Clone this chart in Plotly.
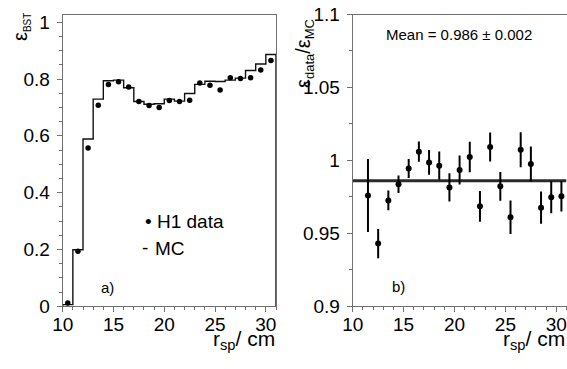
import numpy as np
import plotly.graph_objects as go

# ---- data ----
bin_edges = list(range(10, 32))            # 10 ... 31 cm, 1 cm bins
bin_centers = [e + 0.5 for e in bin_edges[:-1]]

eff_data = [0.012, 0.194, 0.557, 0.708, 0.781, 0.790, 0.772, 0.721, 0.707, 0.700,
            0.724, 0.721, 0.725, 0.786, 0.778, 0.761, 0.804, 0.802, 0.804, 0.832, 0.865]
eff_mc = [0.006, 0.199, 0.589, 0.729, 0.794, 0.796, 0.769, 0.721, 0.711, 0.713,
          0.729, 0.722, 0.749, 0.781, 0.792, 0.791, 0.796, 0.803, 0.830, 0.853, 0.886]

ratio_x = bin_centers[1:]
ratio = [0.976, 0.943, 0.9726, 0.9836, 0.9945, 1.006, 0.9986, 0.9964, 0.9815, 0.9934,
         1.0023, 0.9685, 1.0092, 0.9822, 0.961, 1.0073, 0.9975, 0.9676, 0.9747, 0.9754]
ratio_err = [0.025, 0.010, 0.0068, 0.006, 0.0065, 0.007, 0.0085, 0.0097, 0.0097, 0.010,
             0.0105, 0.0105, 0.010, 0.0098, 0.0115, 0.012, 0.012, 0.011, 0.011, 0.0105]
mean_ratio = 0.986
mean_text = "Mean = 0.986 ± 0.002"

# ---- step path for MC histogram (closed to zero like ROOT) ----
step_x = [bin_edges[0]]
step_y = [0.0]
for i, v in enumerate(eff_mc):
    step_x += [bin_edges[i], bin_edges[i + 1]]
    step_y += [v, v]
step_x.append(bin_edges[-1])
step_y.append(0.0)

W, H = 567, 369
def px(x): return x / W
def py(y): return 1 - y / H

FONT = "Liberation Sans, Arial, Helvetica, sans-serif"
AX = "#707070"

fig = go.Figure()
fig.add_trace(go.Scatter(x=step_x, y=step_y, mode="lines",
                         line=dict(color="#111", width=1.4), xaxis="x", yaxis="y",
                         showlegend=False, hoverinfo="skip"))
fig.add_trace(go.Scatter(x=bin_centers, y=eff_data, mode="markers",
                         marker=dict(color="black", size=5.5), xaxis="x", yaxis="y",
                         showlegend=False))
fig.add_trace(go.Scatter(x=[bin_edges[0], bin_edges[-1]], y=[mean_ratio, mean_ratio],
                         mode="lines", line=dict(color="#2a2a2a", width=3),
                         xaxis="x2", yaxis="y2", showlegend=False, hoverinfo="skip"))
fig.add_trace(go.Scatter(x=ratio_x, y=ratio, mode="markers",
                         marker=dict(color="black", size=6),
                         error_y=dict(type="data", array=ratio_err, color="black",
                                      thickness=2, width=0),
                         xaxis="x2", yaxis="y2", showlegend=False))

ydom = [py(306.3), py(14.5)]
common_x = dict(range=[10, 31], tickvals=[10, 15, 20, 25, 30], ticks="outside",
                ticklen=5, tickcolor=AX, tickwidth=1, showline=True, linecolor=AX,
                linewidth=1, mirror=True, showgrid=False, zeroline=False, automargin=False,
                tickfont=dict(family=FONT, size=19, color="black"), ticklabelstandoff=-4,
                minor=dict(dtick=1, tick0=10, ticks="outside", ticklen=3, tickcolor=AX))
common_y = dict(ticks="outside", ticklen=5, tickcolor=AX, tickwidth=1, showline=True,
                linecolor=AX, linewidth=1, mirror=True, showgrid=False, zeroline=False,
                automargin=False,
                tickfont=dict(family=FONT, size=19, color="black"), ticklabelstandoff=3)

fig.update_layout(
    width=W, height=H, margin=dict(l=0, r=0, t=0, b=0, autoexpand=False),
    paper_bgcolor="white", plot_bgcolor="white",
    xaxis=dict(domain=[px(62.7), px(276)], anchor="y", **common_x),
    yaxis=dict(domain=ydom, anchor="x", range=[0, 1.027], tickvals=[0, 0.2, 0.4, 0.6, 0.8, 1],
               minor=dict(dtick=0.05, tick0=0, ticks="outside", ticklen=3, tickcolor=AX),
               **common_y),
    xaxis2=dict(domain=[px(352.7), px(566.5)], anchor="y2", **common_x),
    yaxis2=dict(domain=ydom, anchor="x2", range=[0.9, 1.1],
                tickvals=[0.9, 0.95, 1, 1.05, 1.1], ticktext=["0.9", "0.95", "1", "1.05", "1.1"],
                minor=dict(dtick=0.025, tick0=0.9, ticks="outside", ticklen=3, tickcolor=AX),
                **common_y),
)

def ann(text, x, y, size, xanchor="left", yanchor="middle", angle=0):
    fig.add_annotation(text=text, x=px(x), y=py(y), xref="paper", yref="paper",
                       xanchor=xanchor, yanchor=yanchor, textangle=angle, showarrow=False,
                       font=dict(family=FONT, size=size, color="black"))

# axis titles
ann("r<sub>sp</sub>/ cm", 277, 340, 21, xanchor="right")
ann("r<sub>sp</sub>/ cm", 567, 340, 21, xanchor="right")
ann("ε<sub><span style='font-size:10px'>BST</span></sub>", 21, 27, 20,
    xanchor="center", angle=-90)
ann("ε<sub><span style='font-size:13px'>data</span></sub>/ε<sub><span style='font-size:13px'>MC</span></sub>",
    304, 54, 20, xanchor="center", angle=-90)

# legend & labels
ann("• H1 data", 143, 221, 19)
ann("-", 140, 247, 19)
ann("MC", 153, 248, 19)
ann("a)", 99, 287, 15)
ann("b)", 390, 286, 15)
ann(mean_text, 384, 35, 15)

fig.write_html("out.html", config={"displayModeBar": False},
               post_script="document.body.style.margin='0';document.body.style.overflow='hidden';")
